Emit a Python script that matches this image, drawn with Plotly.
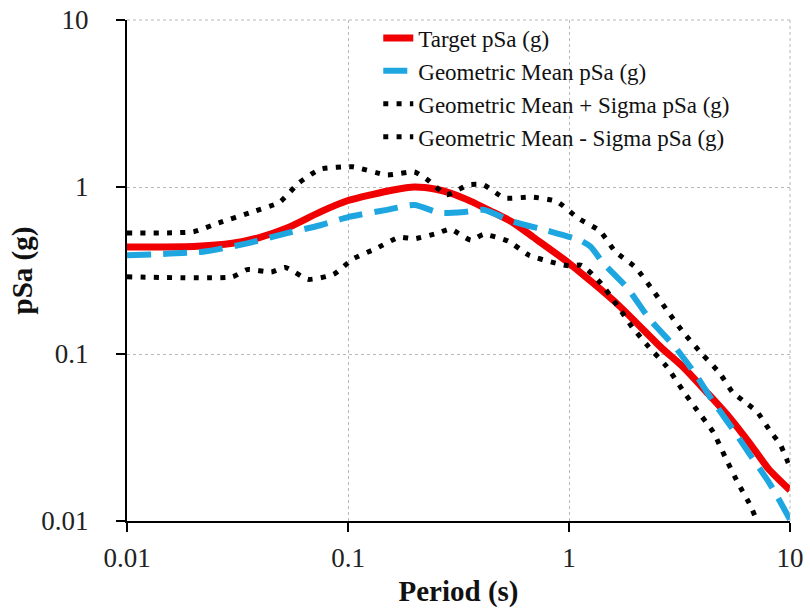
import plotly.graph_objects as go

# ---- data ----
target_T = [0.01, 0.02, 0.03, 0.04, 0.053, 0.075, 0.1, 0.16, 0.2, 0.25, 0.29, 0.36, 0.44, 0.55,
            0.69, 1.0, 1.65, 2.6, 3.3, 4.2, 5.3, 6.6, 8.0, 10]
target_sa = [0.437, 0.44, 0.46, 0.50, 0.568, 0.71, 0.83, 0.96, 1.0, 0.97, 0.92, 0.82, 0.72, 0.62,
             0.50, 0.35, 0.20, 0.11, 0.083, 0.059, 0.042, 0.029, 0.0205, 0.0153]

gm_T = [0.01, 0.022, 0.035, 0.053, 0.075, 0.1, 0.15, 0.2, 0.26, 0.34, 0.41, 0.56, 0.79, 1.12,
        1.25, 1.43, 1.83, 2.33, 3.02, 3.75, 4.53, 5.47, 6.52, 8.11, 10]
gm_sa = [0.39, 0.41, 0.46, 0.53, 0.59, 0.66, 0.73, 0.78, 0.70, 0.71, 0.73, 0.62, 0.55, 0.48,
         0.44, 0.35, 0.25, 0.16, 0.11, 0.075, 0.051, 0.036, 0.0255, 0.0167, 0.0102]

up_T = [0.01, 0.02, 0.026, 0.037, 0.049, 0.06, 0.075, 0.105, 0.15, 0.2, 0.23, 0.28, 0.35, 0.41,
        0.51, 0.68, 0.88, 1.1, 1.38, 1.62, 2.0, 2.4, 2.8, 3.3, 4.0, 4.8, 5.5, 6.2, 7.1, 8.2, 9.0, 10]
up_sa = [0.53, 0.54, 0.61, 0.71, 0.81, 1.06, 1.28, 1.32, 1.18, 1.23, 1.1, 0.90, 1.03, 1.03,
         0.86, 0.87, 0.82, 0.65, 0.545, 0.41, 0.33, 0.24, 0.18, 0.134, 0.10, 0.077, 0.059, 0.052,
         0.045, 0.034, 0.029, 0.021]

lo_T = [0.01, 0.03, 0.035, 0.045, 0.052, 0.066, 0.086, 0.105, 0.135, 0.17, 0.2, 0.255, 0.29,
        0.36, 0.41, 0.53, 0.66, 0.87, 1.0, 1.14, 1.39, 1.65, 1.93, 2.3, 2.77, 3.26, 3.8, 4.5,
        5.1, 5.8, 6.6, 7.0]
lo_sa = [0.29, 0.29, 0.32, 0.31, 0.33, 0.28, 0.30, 0.37, 0.43, 0.50, 0.49, 0.53, 0.56, 0.48,
         0.52, 0.475, 0.39, 0.35, 0.337, 0.34, 0.266, 0.196, 0.145, 0.11, 0.084, 0.061, 0.046,
         0.034, 0.024, 0.017, 0.0125, 0.0104]

names = ["Target pSa (g)", "Geometric Mean pSa (g)",
         "Geometric Mean + Sigma pSa (g)", "Geometric Mean - Sigma pSa (g)"]
tick_vals = [0.01, 0.1, 1, 10]
tick_text = ["0.01", "0.1", "1", "10"]

FONT = "Liberation Serif, Times New Roman, serif"

fig = go.Figure()
fig.add_trace(go.Scatter(x=target_T, y=target_sa, mode="lines", name=names[0],
                         line=dict(color="#f00000", width=7, shape="spline", smoothing=0.6)))
fig.add_trace(go.Scatter(x=gm_T, y=gm_sa, mode="lines", name=names[1],
                         line=dict(color="#1ea6e0", width=6, dash="24px,12px",
                                   shape="spline", smoothing=0.6)))
fig.add_trace(go.Scatter(x=up_T, y=up_sa, mode="lines", name=names[2],
                         line=dict(color="black", width=5, dash="5px,8.3px",
                                   shape="spline", smoothing=0.5)))
fig.add_trace(go.Scatter(x=lo_T, y=lo_sa, mode="lines", name=names[3],
                         line=dict(color="black", width=5, dash="5px,8.3px",
                                   shape="spline", smoothing=0.5)))

axis_common = dict(
    type="log", tickvals=tick_vals, ticktext=tick_text,
    showline=True, linecolor="black", linewidth=2,
    ticks="outside", ticklen=9, tickwidth=2, tickcolor="black",
    showgrid=True, gridcolor="#b8b8b8", gridwidth=1, griddash="3px,3px",
    zeroline=False, tickfont=dict(family=FONT, size=27, color="#222"),
)

fig.update_xaxes(range=[-2, 1], title=dict(text="Period (s)",
                 font=dict(family=FONT, size=29, color="#111", weight="bold"), standoff=8),
                 ticklabelstandoff=3, **axis_common)
fig.update_yaxes(range=[-2, 1], title=dict(text="pSa (g)",
                 font=dict(family=FONT, size=29, color="#111", weight="bold"), standoff=0),
                 ticklabelstandoff=22, **axis_common)

# dashed grid lines at the top and right edges (as in the reference)
fig.add_shape(type="line", xref="paper", yref="paper", x0=0, x1=1, y0=1, y1=1,
              line=dict(color="#b8b8b8", width=1, dash="3px,3px"))
fig.add_shape(type="line", xref="paper", yref="paper", x0=1, x1=1, y0=0, y1=1,
              line=dict(color="#b8b8b8", width=1, dash="3px,3px"))

fig.update_layout(
    width=810, height=610,
    margin=dict(l=127, r=20, t=20, b=89, autoexpand=False),
    plot_bgcolor="white", paper_bgcolor="white",
    font=dict(family=FONT, color="#111"),
    legend=dict(x=0.379, y=1.007, xanchor="left", yanchor="top",
                bgcolor="rgba(0,0,0,0)", borderwidth=0,
                font=dict(family=FONT, size=23, color="#111"),
                tracegroupgap=0, itemwidth=30),
    showlegend=True,
)

fig.write_html("out.html")
